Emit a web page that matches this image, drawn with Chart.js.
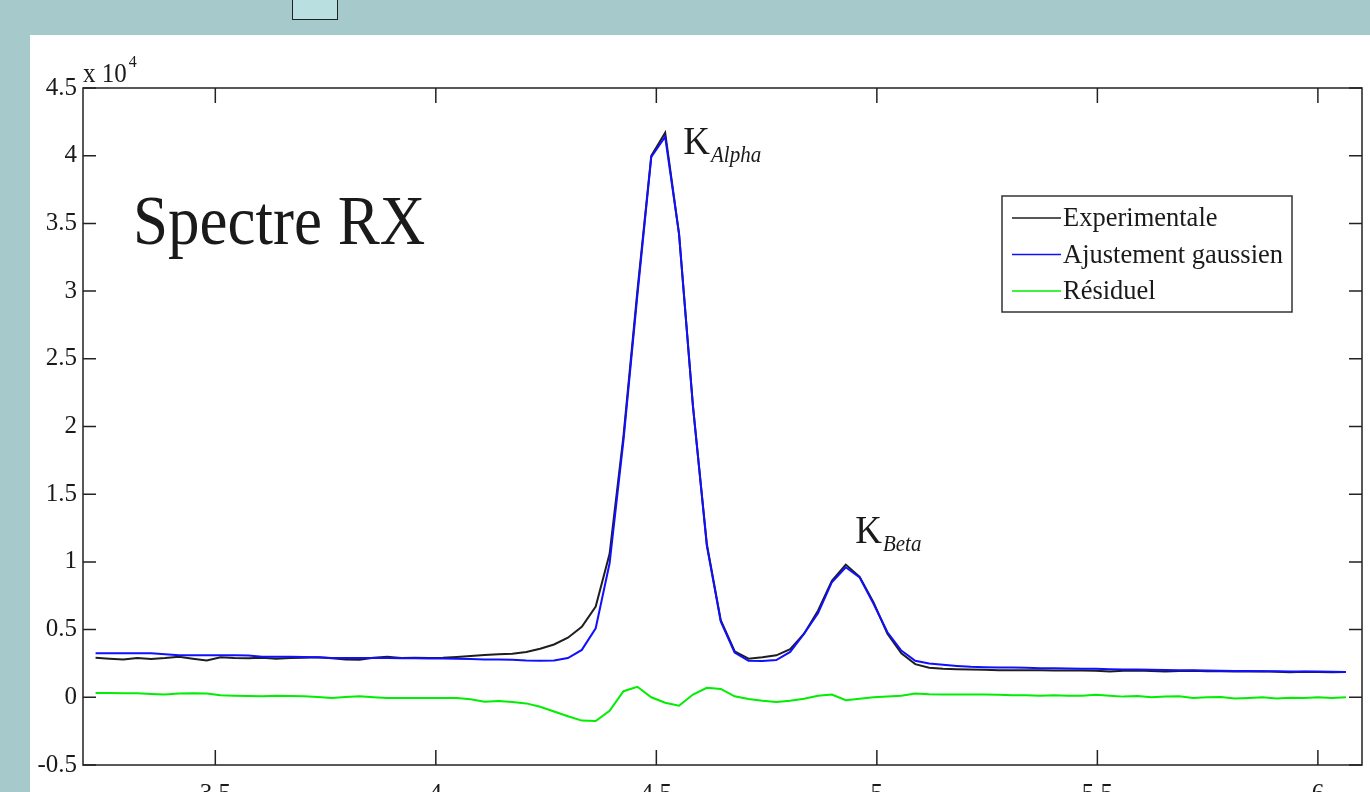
<!DOCTYPE html>
<html>
<head>
<meta charset="utf-8">
<script src="https://cdn.jsdelivr.net/npm/chart.js@4/dist/chart.umd.min.js"></script>
<style>
  html, body { margin: 0; padding: 0; }
  body { width: 1370px; height: 792px; overflow: hidden; background: #a6c9cc; position: relative; }
  .tab { position: absolute; left: 292px; top: -3px; width: 44px; height: 21px; background: #b9dfe1; border: 1.5px solid #222; }
  .panel { position: absolute; left: 30px; top: 35px; width: 1340px; height: 775px; background: #fff; }
  #spectre { display: block; }
</style>
</head>
<body>
<div class="tab"></div>
<div class="panel"><canvas id="spectre" width="1340" height="775"></canvas></div>
<script>
// energie (keV) des canaux
const energy = [
  3.2285, 3.2600, 3.2915, 3.3230, 3.3545, 3.3860, 3.4175, 3.4490, 3.4805, 3.5120,
  3.5435, 3.5750, 3.6065, 3.6380, 3.6695, 3.7010, 3.7325, 3.7640, 3.7955, 3.8270,
  3.8585, 3.8900, 3.9215, 3.9530, 3.9845, 4.0160, 4.0475, 4.0790, 4.1105, 4.1420,
  4.1735, 4.2050, 4.2365, 4.2680, 4.2995, 4.3310, 4.3625, 4.3940, 4.4255, 4.4570,
  4.4885, 4.5200, 4.5515, 4.5830, 4.6145, 4.6460, 4.6775, 4.7090, 4.7405, 4.7720,
  4.8035, 4.8350, 4.8665, 4.8980, 4.9295, 4.9610, 4.9925, 5.0240, 5.0555, 5.0870,
  5.1185, 5.1500, 5.1815, 5.2130, 5.2445, 5.2760, 5.3075, 5.3390, 5.3705, 5.4020,
  5.4335, 5.4650, 5.4965, 5.5280, 5.5595, 5.5910, 5.6225, 5.6540, 5.6855, 5.7170,
  5.7485, 5.7800, 5.8115, 5.8430, 5.8745, 5.9060, 5.9375, 5.9690, 6.0005, 6.0320,
  6.0635
];
const experimentale = [
  2920, 2850, 2800, 2900, 2830, 2900, 3000, 2850, 2720, 2950,
  2900, 2880, 2920, 2850, 2900, 2920, 2950, 2880, 2800, 2780,
  2920, 3000, 2900, 2920, 2900, 2920, 2980, 3050, 3120, 3180,
  3220, 3350, 3580, 3900, 4400, 5200, 6700, 10600, 19300, 30000,
  40000, 41700, 34200, 21500, 11300, 5700, 3400, 2850, 2950, 3100,
  3550, 4700, 6400, 8600, 9800, 8900, 7000, 4700, 3250, 2450,
  2180, 2100, 2070, 2050, 2030, 2000, 2000, 2000, 2000, 1980,
  1980, 1980, 1960, 1900, 1960, 1980, 1950, 1900, 1950, 1970,
  1930, 1920, 1900, 1900, 1920, 1880, 1850, 1880, 1870, 1850,
  1860
];
const ajustement = [
  3250, 3250, 3250, 3250, 3250, 3180, 3100, 3100, 3100, 3100,
  3100, 3080, 3000, 3000, 3000, 2980, 2950, 2900, 2900, 2900,
  2900, 2900, 2880, 2880, 2870, 2860, 2850, 2820, 2800, 2800,
  2780, 2720, 2700, 2720, 2900, 3500, 5100, 9900, 19000, 29700,
  39900, 41400, 34200, 21500, 11200, 5600, 3300, 2700, 2680, 2750,
  3350, 4700, 6200, 8500, 9600, 8850, 6900, 4800, 3450, 2700,
  2500, 2400, 2320, 2250, 2220, 2200, 2200, 2180, 2150, 2150,
  2120, 2100, 2100, 2080, 2060, 2050, 2040, 2020, 2000, 2000,
  1980, 1960, 1950, 1940, 1930, 1920, 1900, 1900, 1900, 1880,
  1860
];
const residuel = [
  320, 320, 300, 300, 250, 200, 280, 300, 280, 150,
  120, 100, 70, 120, 100, 70, 20, -50, 20, 70,
  0, -50, -50, -50, -50, -50, -50, -150, -330, -270,
  -350, -450, -700, -1050, -1400, -1720, -1750, -1000, 450, 780,
  0, -400, -620, 200, 700, 620, 70, -120, -250, -350,
  -250, -100, 120, 200, -220, -100, 0, 50, 120, 280,
  220, 200, 200, 200, 200, 180, 150, 150, 120, 150,
  120, 120, 180, 120, 50, 100, 0, 50, 80, -50,
  0, 20, -80, -50, 0, -80, -30, -50, 0, -50,
  0
];
const seriesNames = ['Experimentale', 'Ajustement gaussien', 'Résiduel'];
const xTicks = [3.5, 4, 4.5, 5, 5.5, 6];
const yTicks = [-5000, 0, 5000, 10000, 15000, 20000, 25000, 30000, 35000, 40000, 45000];

const serif = "'Liberation Serif', 'Times New Roman', serif";
const ink = '#1a1a1a';

function toPoints(values) {
  return energy.map((x, i) => ({ x: x, y: values[i] }));
}

// texte un peu etire en hauteur, comme sur l'image d'origine
function tallText(c, txt, x, y, sy) {
  c.save();
  c.translate(x, y);
  c.scale(1, sy);
  c.fillText(txt, 0, 0);
  c.restore();
}

// cadre type matlab, ticks vers l'interieur, legende, annotations
const matlabFrame = {
  id: 'matlabFrame',
  afterDatasetsDraw(chart) {
    const { ctx, chartArea: a, scales } = chart;
    ctx.save();
    ctx.strokeStyle = '#222';
    ctx.lineWidth = 1.5;
    ctx.strokeRect(a.left, a.top, a.right - a.left, a.bottom - a.top);
    ctx.beginPath();
    xTicks.forEach(v => {
      const px = scales.x.getPixelForValue(v);
      ctx.moveTo(px, a.bottom); ctx.lineTo(px, a.bottom - 15);
      ctx.moveTo(px, a.top); ctx.lineTo(px, a.top + 15);
    });
    yTicks.forEach(v => {
      const py = scales.y.getPixelForValue(v);
      ctx.moveTo(a.left, py); ctx.lineTo(a.left + 13, py);
      ctx.moveTo(a.right, py); ctx.lineTo(a.right - 13, py);
    });
    ctx.stroke();

    // x 10^4
    ctx.fillStyle = ink;
    ctx.textBaseline = 'alphabetic';
    ctx.textAlign = 'left';
    ctx.font = '25px ' + serif;
    tallText(ctx, 'x 10', a.left, a.top - 6, 1.08);
    const w10 = ctx.measureText('x 10').width;
    ctx.font = '16px ' + serif;
    tallText(ctx, '4', a.left + w10 + 2, a.top - 21, 1.1);

    // titre
    ctx.font = '63px ' + serif;
    tallText(ctx, 'Spectre RX', a.left + 50, a.top + 156, 1.1);

    // pics
    const notes = chart.options.plugins.matlabFrame.notes;
    notes.forEach(n => {
      const px = scales.x.getPixelForValue(n.x);
      const py = scales.y.getPixelForValue(n.y);
      ctx.font = '37px ' + serif;
      tallText(ctx, n.main, px, py, 1.08);
      const wk = ctx.measureText(n.main).width;
      ctx.font = 'italic 21px ' + serif;
      tallText(ctx, n.sub, px + wk + 1, py + 8, 1.08);
    });

    // legende
    const bx = a.right - 360, by = a.top + 108, bw = 290, bh = 116;
    ctx.fillStyle = '#fff';
    ctx.fillRect(bx, by, bw, bh);
    ctx.strokeStyle = '#333';
    ctx.lineWidth = 1.5;
    ctx.strokeRect(bx, by, bw, bh);
    ctx.font = '26.5px ' + serif;
    ctx.textBaseline = 'middle';
    chart.data.datasets.forEach((ds, i) => {
      const ry = by + 22 + i * 36.5;
      ctx.strokeStyle = ds.borderColor;
      ctx.lineWidth = 1.5;
      ctx.beginPath();
      ctx.moveTo(bx + 10, ry); ctx.lineTo(bx + 59, ry);
      ctx.stroke();
      ctx.fillStyle = ink;
      tallText(ctx, ds.label, bx + 61, ry + 1, 1.06);
    });
    ctx.restore();
  }
};

const ctx = document.getElementById('spectre');
const spectreChart = new Chart(ctx, {
  type: 'line',
  data: {
    datasets: [
      { label: seriesNames[0], data: toPoints(experimentale), borderColor: '#1e1e1e', borderWidth: 2, pointRadius: 0, tension: 0, order: 1 },
      { label: seriesNames[1], data: toPoints(ajustement), borderColor: '#1010ff', borderWidth: 2, pointRadius: 0, tension: 0, order: 0 },
      { label: seriesNames[2], data: toPoints(residuel), borderColor: '#00ee00', borderWidth: 2, pointRadius: 0, tension: 0, order: 2 }
    ]
  },
  options: {
    responsive: false,
    animation: false,
    devicePixelRatio: 1,
    layout: { padding: { top: 53, right: 8, left: 0, bottom: 0 } },
    plugins: {
      legend: { display: false },
      tooltip: { enabled: false },
      matlabFrame: {
        notes: [
          { main: 'K', sub: 'Alpha', x: 4.561, y: 40100 },
          { main: 'K', sub: 'Beta', x: 4.951, y: 11400 }
        ]
      }
    },
    scales: {
      x: {
        type: 'linear',
        min: 3.2,
        max: 6.1,
        afterBuildTicks: s => { s.ticks = xTicks.map(v => ({ value: v })); },
        afterFit: s => { s.height = 45; },
        grid: { display: false, drawTicks: false },
        border: { display: false },
        ticks: {
          color: ink,
          font: { family: serif, size: 25 },
          padding: 14,
          maxRotation: 0,
          autoSkip: false,
          callback: v => String(v)
        }
      },
      y: {
        min: -5000,
        max: 45000,
        afterBuildTicks: s => { s.ticks = yTicks.map(v => ({ value: v })); },
        afterFit: s => { s.width = 53; },
        grid: { display: false, drawTicks: false },
        border: { display: false },
        ticks: {
          color: ink,
          font: { family: serif, size: 25 },
          padding: 6,
          autoSkip: false,
          callback: v => String(+(v / 1e4).toFixed(1))
        }
      }
    }
  },
  plugins: [matlabFrame]
});
</script>
</body>
</html>
